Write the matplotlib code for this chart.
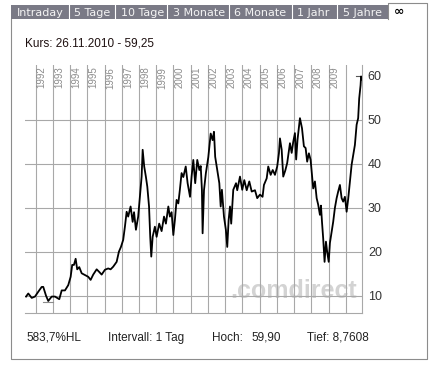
import matplotlib
matplotlib.use('Agg')
import matplotlib.pyplot as plt
import matplotlib.transforms as mtransforms
from matplotlib.patches import Rectangle

years = [1991.44, 1991.57, 1991.77, 1991.96, 1992.15, 1992.35, 1992.44, 1992.60, 1992.73, 1992.93,
         1993.12, 1993.37, 1993.51, 1993.70, 1993.89, 1994.03, 1994.12, 1994.22, 1994.32, 1994.41,
         1994.53, 1994.67, 1994.86, 1995.05, 1995.19, 1995.34, 1995.54, 1995.69, 1995.83, 1996.02,
         1996.21, 1996.35, 1996.50, 1996.70, 1996.83, 1996.95, 1997.08, 1997.18, 1997.28, 1997.37,
         1997.51, 1997.63, 1997.71, 1997.82, 1997.95, 1998.05, 1998.15, 1998.21, 1998.30, 1998.40,
         1998.48, 1998.58, 1998.65, 1998.71, 1998.79, 1998.92, 1999.02, 1999.17, 1999.31, 1999.45,
         1999.56, 1999.70, 1999.79, 1999.89, 1999.99, 2000.08, 2000.18, 2000.28, 2000.37, 2000.47,
         2000.57, 2000.71, 2000.82, 2000.96, 2001.05, 2001.15, 2001.26, 2001.38, 2001.50, 2001.58,
         2001.65, 2001.69, 2001.77, 2001.88, 2002.02, 2002.16, 2002.27, 2002.35, 2002.42, 2002.54,
         2002.66, 2002.74, 2002.81, 2002.93, 2003.04, 2003.12, 2003.20, 2003.28, 2003.35, 2003.47,
         2003.63, 2003.70, 2003.86, 2003.99, 2004.11, 2004.25, 2004.40, 2004.54, 2004.73, 2004.86,
         2005.02, 2005.17, 2005.25, 2005.41, 2005.50, 2005.64, 2005.76, 2005.89, 2006.02, 2006.12,
         2006.18, 2006.28, 2006.37, 2006.49, 2006.60, 2006.76, 2006.86, 2006.95, 2007.05, 2007.12,
         2007.20, 2007.34, 2007.46, 2007.57, 2007.67, 2007.76, 2007.86, 2007.96, 2008.04, 2008.11,
         2008.21, 2008.31, 2008.40, 2008.50, 2008.56, 2008.62, 2008.69, 2008.77, 2008.85, 2008.92,
         2009.01, 2009.08, 2009.18, 2009.27, 2009.37, 2009.47, 2009.56, 2009.66, 2009.76, 2009.85,
         2009.95, 2010.05, 2010.14, 2010.24, 2010.34, 2010.43, 2010.53, 2010.63, 2010.72, 2010.78,
         2010.86, 2010.89, 2010.91]
kurs = [9.8, 10.5, 9.5, 9.8, 10.9, 12.0, 12.0, 10.0, 8.8, 9.8,
        9.8, 9.2, 11.2, 11.2, 12.4, 14.3, 17.0, 17.0, 18.4, 16.0,
        16.5, 15.1, 14.7, 14.3, 13.6, 14.8, 16.0, 15.4, 14.8, 15.9,
        16.2, 16.0, 16.6, 17.7, 20.0, 21.1, 22.7, 25.7, 29.1, 28.0,
        30.3, 26.8, 29.0, 25.0, 28.0, 32.5, 37.1, 43.2, 39.4, 37.0,
        34.8, 30.3, 23.4, 18.9, 23.4, 25.7, 23.4, 26.4, 24.7, 28.0,
        26.4, 30.3, 28.0, 29.0, 23.8, 27.2, 31.8, 31.0, 34.1, 37.9,
        37.0, 39.4, 35.6, 32.5, 37.1, 40.9, 35.6, 40.9, 38.6, 39.5,
        34.1, 24.2, 34.0, 37.9, 41.5, 46.9, 45.4, 47.3, 41.6, 38.6,
        35.6, 30.3, 34.1, 28.0, 25.0, 21.1, 27.2, 30.3, 26.4, 34.1,
        35.6, 34.0, 37.1, 34.1, 36.3, 34.0, 36.0, 33.7, 34.0, 32.2,
        33.0, 32.5, 35.2, 36.7, 39.4, 37.5, 38.6, 37.5, 39.4, 42.4,
        45.8, 43.2, 37.1, 38.5, 40.2, 44.7, 42.5, 45.0, 47.0, 41.0,
        45.5, 50.4, 48.1, 44.0, 43.6, 40.5, 42.4, 40.9, 37.5, 34.4,
        36.0, 32.2, 30.7, 28.4, 30.5, 26.8, 23.0, 17.7, 22.3, 20.0,
        17.7, 22.0, 24.6, 26.8, 30.0, 32.2, 33.7, 35.2, 32.2, 31.4,
        32.5, 29.1, 32.0, 36.0, 39.8, 42.0, 44.3, 48.9, 50.4, 54.9,
        57.9, 59.9, 59.25]

hoch_wert = 59.90
tief_wert = 8.7608
hoch_jahr = 2010.89
tief_jahr = 1992.73

jahre = list(range(1992, 2011))
y_ticks = [10, 20, 30, 40, 50, 60]
tabs = ['Intraday', '5 Tage', '10 Tage', '3 Monate', '6 Monate', '1 Jahr', '5 Jahre']
kopf = 'Kurs: 26.11.2010 - 59,25'
fuss = ['583,7%HL', 'Intervall: 1 Tag', 'Hoch:', '59,90', 'Tief: 8,7608']

W, H = 436, 368
fig = plt.figure(figsize=(W / 100, H / 100), dpi=100)

# Hintergrund in Pixelkoordinaten: Rahmen, Reiter, Wasserzeichen
bg = fig.add_axes([0, 0, 1, 1], zorder=0)
bg.set_xlim(0, W)
bg.set_ylim(H, 0)
bg.axis('off')

rand = '#8c8c8c'
bg.plot([11, 11, 427, 427, 388, 388], [19, 359, 359, 3, 3, 19], color=rand, lw=0.8)
bg.add_patch(Rectangle((11, 5), 377, 14, color='#7a7a86', lw=0))
for xs in [69, 115, 166.7, 229.3, 292.3, 336.7]:
    bg.plot([xs, xs], [5, 19], color='white', lw=0.8)
tab_mitte = [40.3, 92, 143, 199, 260.5, 313.5, 362]
for name, xm in zip(tabs, tab_mitte):
    bg.text(xm, 12.5, name, color='#f4f4f4', fontsize=8, family='DejaVu Sans',
            ha='center', va='center')
bg.text(399.5, 12, '\u221e', color='black', fontsize=9, fontweight='bold',
        family='DejaVu Sans', ha='center', va='center')

bg.text(25, 43, kopf, color='#1e1010', fontsize=8.5, family='Liberation Sans',
        ha='left', va='center')

bg.text(293.5, 291.5, '.comdirect', color='#d3d3d3', fontsize=18, fontweight='bold',
        family='Liberation Sans', ha='center', va='center')

fuss_x = [26, 108, 212, 251.7, 307]
for t, xf in zip(fuss, fuss_x):
    bg.text(xf, 338, t, color='#222222', fontsize=8.5, family='Liberation Sans',
            ha='left', va='center')

# eigentlicher Chart
ax = fig.add_axes([25 / W, 55 / H, 337.3 / W, 248 / H], zorder=1)
ax.set_facecolor('none')
ax.set_xlim(1991.38, 2010.96)
ax.set_ylim(6.06, 62.5)

for s in ['top', 'left']:
    ax.spines[s].set_visible(False)
for s in ['right', 'bottom']:
    ax.spines[s].set_color('#a8a8a8')
    ax.spines[s].set_linewidth(0.8)

ax.set_xticks(jahre)
ax.set_xticklabels([])
ax.set_yticks(y_ticks)
ax.yaxis.tick_right()
ax.set_yticklabels([str(v) for v in y_ticks], fontsize=9, color='#333333',
                   family='Liberation Sans')
ax.tick_params(length=0, pad=4)
ax.grid(True, color='#a8a8a8', lw=0.8)
ax.get_ygridlines()[-1].set_visible(False)
ax.set_axisbelow(True)

# Jahreszahlen oben, gedreht, rechts neben der Gitterlinie
trans = mtransforms.offset_copy(ax.get_xaxis_transform(), fig=fig, x=6, y=0, units='dots')
for j in jahre[:-1]:
    ax.text(j, 0.993, str(j), transform=trans, rotation=90, fontsize=7, color='#8c8c8c',
            family='Liberation Sans', ha='center', va='top')

ax.plot(years, kurs, color='black', lw=1.3, zorder=3)

# Hoch-/Tief-Markierungen
ax.plot([hoch_jahr - 0.32, 2010.96], [hoch_wert, hoch_wert], color='#555555', lw=0.8, zorder=2)
ax.plot([tief_jahr - 0.3, tief_jahr + 0.3], [tief_wert - 0.2, tief_wert - 0.2],
        color='#8c8c8c', lw=0.8, zorder=2)

fig.savefig('out.png', dpi=100)
